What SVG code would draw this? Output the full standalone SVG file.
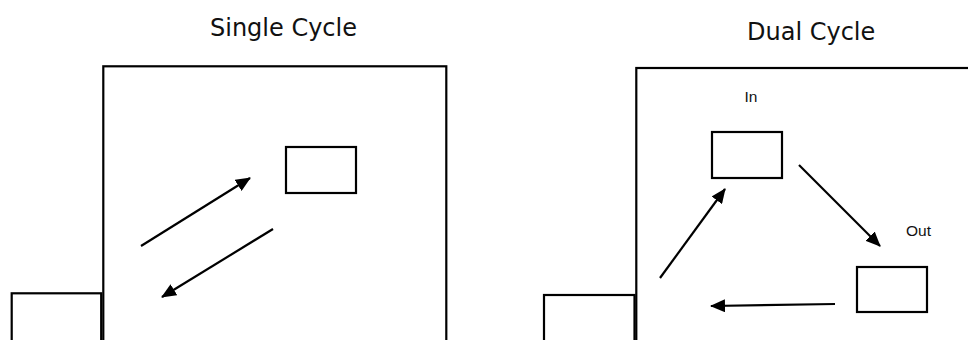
<svg xmlns="http://www.w3.org/2000/svg" width="968" height="340" viewBox="0 0 968 340">
  <style>
    .frame { fill: none; stroke: #000; stroke-width: 2.2; }
    .box { fill: #fff; stroke: #000; stroke-width: 2.2; }
    .title { font-family: "DejaVu Sans", "Liberation Sans", sans-serif; font-size: 24px; fill: #111; }
    .label { font-family: "Liberation Sans", "DejaVu Sans", sans-serif; font-size: 15.5px; fill: #111; }
    .arrow { fill: none; stroke: #000; stroke-width: 2.2; marker-end: url(#head); }
  </style>
  <defs>
    <marker id="head" markerUnits="userSpaceOnUse" markerWidth="15" markerHeight="13" viewBox="0 0 15 13" refX="14" refY="6.5" orient="auto">
      <path d="M0,0 L15,6.5 L0,13 z" fill="#000"/>
    </marker>
  </defs>
  <rect width="968" height="340" fill="#fff"/>

  <text class="title" x="210" y="35.5">Single Cycle</text>
  <text class="title" x="747" y="40">Dual Cycle</text>

  <g id="single-rack">
    <rect class="frame" x="103.3" y="66.3" width="343" height="300"/>
  </g>
  <g id="single-station">
    <rect class="frame" x="11.7" y="293.3" width="89.5" height="100"/>
  </g>
  <g id="single-slot">
    <rect class="box" x="286" y="147" width="70" height="46"/>
  </g>

  <g id="dual-rack">
    <rect class="frame" x="636.3" y="68" width="400" height="300"/>
  </g>
  <g id="dual-station">
    <rect class="frame" x="544" y="295" width="90.5" height="100"/>
  </g>
  <g id="dual-in">
    <rect class="box" x="712" y="132" width="70" height="46"/>
    <text class="label" x="744.5" y="101.5">In</text>
  </g>
  <g id="dual-out">
    <rect class="box" x="857" y="267" width="70" height="45"/>
    <text class="label" x="906" y="235.5">Out</text>
  </g>

  <g id="connectors">
    <line class="arrow" x1="141" y1="246" x2="250" y2="178"/>
    <line class="arrow" x1="273" y1="229" x2="162" y2="297"/>
    <line class="arrow" x1="660" y1="278" x2="725" y2="189"/>
    <line class="arrow" x1="799" y1="165" x2="880" y2="246"/>
    <line class="arrow" x1="835" y1="304" x2="711" y2="306"/>
  </g>
</svg>
